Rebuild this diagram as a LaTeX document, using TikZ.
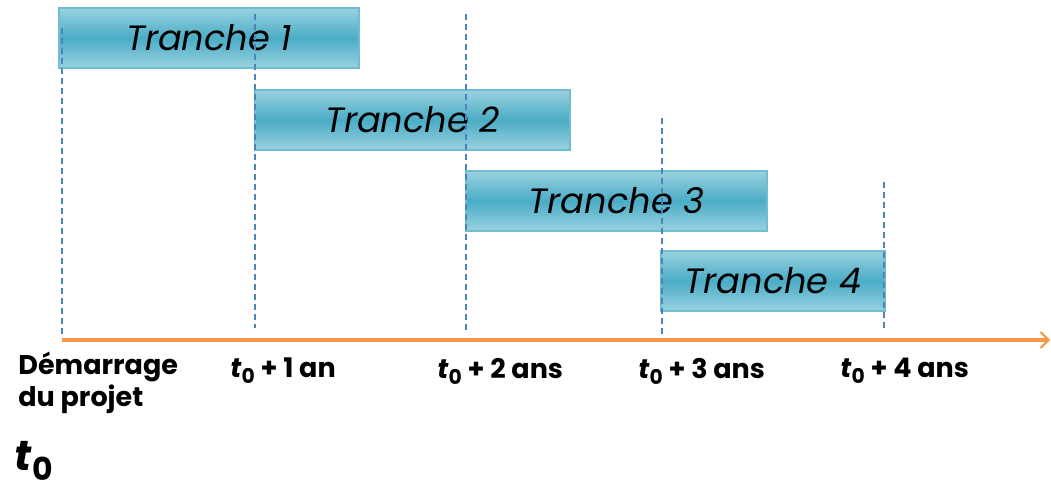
\documentclass[tikz,border=0pt]{standalone}
\usepackage{fontspec}
\setmainfont{Poppins}
\usetikzlibrary{arrows.meta,positioning}
\definecolor{tranchebleu}{HTML}{4BACC6}
\definecolor{trancheclair}{HTML}{9AD2E0}
\definecolor{axeorange}{HTML}{F79646}
\definecolor{repbleu}{HTML}{4F81BD}
\newcommand{\tzero}{\textit{t}\raisebox{-0.4ex}{\scalebox{0.75}{0}}}

\begin{document}
\begin{tikzpicture}[>=Latex,x=0.5pt,y=-0.5pt,
  tranche/.style={draw=tranchebleu!80, line width=1pt, top color=trancheclair,
    bottom color=trancheclair, middle color=tranchebleu, minimum height=30pt,
    inner sep=0pt, font=\itshape\fontsize{17.6}{20}\selectfont},
  repere/.style={repbleu, line width=0.7pt, dash pattern=on 3pt off 2pt},
  etiquette/.style={anchor=west, inner sep=0pt, font=\bfseries\fontsize{13.5}{16}\selectfont}]

\useasboundingbox (0,0) rectangle (1051,492);

% tranches
\node[tranche, minimum width=150pt] (t1) at (209,38) {Tranche 1};
\node[tranche, minimum width=157.5pt] (t2) at (412.5,120) {Tranche 2};
\node[tranche, minimum width=150.5pt] (t3) at (616.5,201) {Tranche 3};
\node[tranche, minimum width=112pt] (t4) at (773,281) {Tranche 4};

% axe du temps
\coordinate (debut) at (62,340);
\coordinate (fin) at (1050,340);
\draw[axeorange, line width=2pt, -{Straight Barb[length=4pt,width=8pt,line width=1pt]}] (debut) -- (fin);

% reperes annuels
\coordinate (r0h) at (62,28);   \coordinate (r0b) at (62,336);
\coordinate (r1h) at (255,14);  \coordinate (r1b) at (255,328);
\coordinate (r2h) at (466,14);  \coordinate (r2b) at (466,330);
\coordinate (r3h) at (662,118); \coordinate (r3b) at (662,336);
\coordinate (r4h) at (884,182); \coordinate (r4b) at (884,330);
\foreach \i in {0,...,4}
  \draw[repere] (r\i h) -- (r\i b);

% etiquettes
\node[anchor=north west, align=left, inner sep=0pt,
  font=\bfseries\fontsize{13.5}{16}\selectfont] (demarrage) at (18,352) {Démarrage\\du projet};
\node[etiquette] (a1) at (230,371) {\tzero{} + 1 an};
\node[etiquette] (a2) at (437,371) {\tzero{} + 2 ans};
\node[etiquette] (a3) at (638,371) {\tzero{} + 3 ans};
\node[etiquette] (a4) at (840,371) {\tzero{} + 4 ans};
\node[anchor=west, inner sep=0pt, font=\bfseries\fontsize{21}{24}\selectfont] (t0) at (14,461) {\tzero};

\end{tikzpicture}
\end{document}
